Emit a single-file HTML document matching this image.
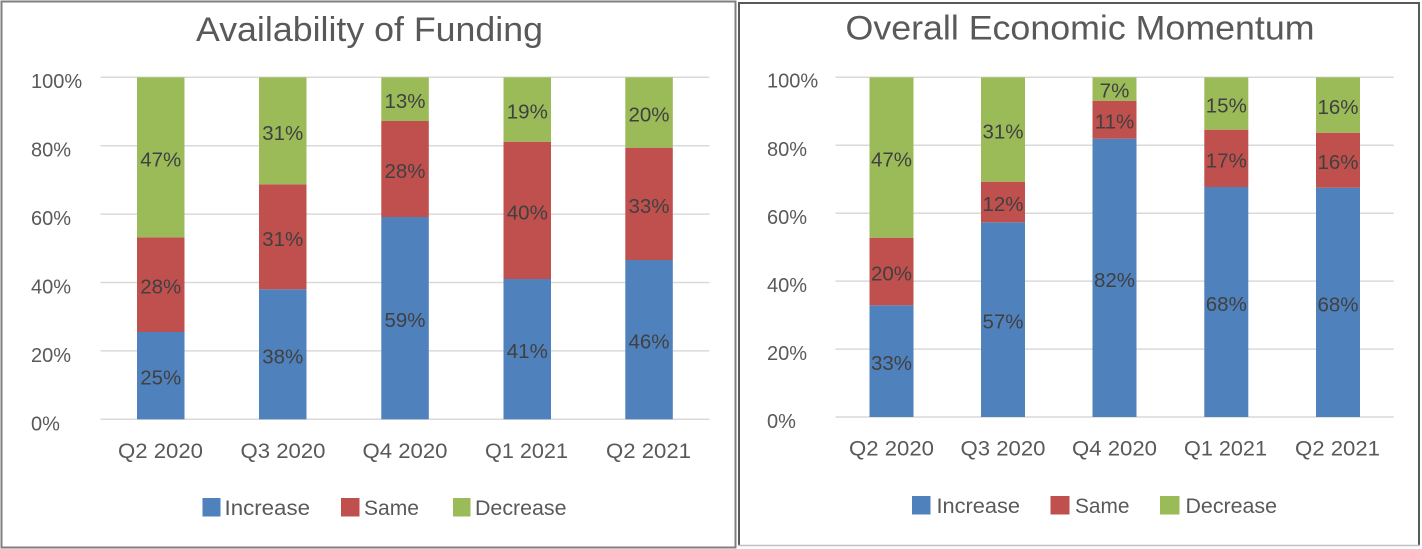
<!DOCTYPE html>
<html>
<head>
<meta charset="utf-8">
<style>
  html, body { margin:0; padding:0; background:#ffffff; }
  body { width:1422px; height:549px; overflow:hidden; }
  svg { display:block; }
  text { font-family: "Liberation Sans", "DejaVu Sans", sans-serif; }
</style>
</head>
<body>
<svg width="1422" height="549" viewBox="0 0 1422 549" xmlns="http://www.w3.org/2000/svg">
  <rect x="0" y="0" width="1422" height="549" fill="#ffffff"/>

  <!-- ============ LEFT CHART ============ -->
  <rect x="1.5" y="1.5" width="734" height="546" fill="#ffffff" stroke="#7f7f7f" stroke-width="2"/>
  <text x="196" y="41" font-size="34" fill="#595959" textLength="347" lengthAdjust="spacingAndGlyphs">Availability of Funding</text>

  <!-- gridlines -->
  <g stroke="#d9d9d9" stroke-width="1.5">
    <line x1="100.5" y1="77.3" x2="709.3" y2="77.3"/>
    <line x1="100.5" y1="145.7" x2="709.3" y2="145.7"/>
    <line x1="100.5" y1="214.1" x2="709.3" y2="214.1"/>
    <line x1="100.5" y1="282.5" x2="709.3" y2="282.5"/>
    <line x1="100.5" y1="350.9" x2="709.3" y2="350.9"/>
    <line x1="100.5" y1="419.3" x2="709.3" y2="419.3"/>
  </g>
  <!-- y tick labels -->
  <g font-size="20" fill="#595959">
    <text x="31" y="88">100%</text>
    <text x="31" y="156.5">80%</text>
    <text x="31" y="225">60%</text>
    <text x="31" y="293.5">40%</text>
    <text x="31" y="362">20%</text>
    <text x="31" y="430.5">0%</text>
  </g>

  <!-- bars -->
  <!-- Bar 1 -->
  <rect x="137" y="332" width="47.5" height="87.3" fill="#4f81bd"/>
  <rect x="137" y="237.3" width="47.5" height="94.7" fill="#c0504d"/>
  <rect x="137" y="77.3" width="47.5" height="160" fill="#9bbb59"/>
  <!-- Bar 2 -->
  <rect x="259" y="289.3" width="47.5" height="130" fill="#4f81bd"/>
  <rect x="259" y="184.3" width="47.5" height="105" fill="#c0504d"/>
  <rect x="259" y="77.3" width="47.5" height="107" fill="#9bbb59"/>
  <!-- Bar 3 -->
  <rect x="381.3" y="217" width="47.5" height="202.3" fill="#4f81bd"/>
  <rect x="381.3" y="121" width="47.5" height="96" fill="#c0504d"/>
  <rect x="381.3" y="77.3" width="47.5" height="43.7" fill="#9bbb59"/>
  <!-- Bar 4 -->
  <rect x="503.5" y="279" width="47.5" height="140.3" fill="#4f81bd"/>
  <rect x="503.5" y="141.7" width="47.5" height="137.3" fill="#c0504d"/>
  <rect x="503.5" y="77.3" width="47.5" height="64.4" fill="#9bbb59"/>
  <!-- Bar 5 -->
  <rect x="625.3" y="260" width="47.5" height="159.3" fill="#4f81bd"/>
  <rect x="625.3" y="147.7" width="47.5" height="112.3" fill="#c0504d"/>
  <rect x="625.3" y="77.3" width="47.5" height="70.4" fill="#9bbb59"/>

  <!-- data labels -->
  <g font-size="20.5" fill="#404040" text-anchor="middle">
    <text x="160.75" y="166.3">47%</text>
    <text x="160.75" y="293.7">28%</text>
    <text x="160.75" y="384.7">25%</text>

    <text x="282.75" y="139.8">31%</text>
    <text x="282.75" y="245.8">31%</text>
    <text x="282.75" y="363.3">38%</text>

    <text x="405" y="108.2">13%</text>
    <text x="405" y="178">28%</text>
    <text x="405" y="327.2">59%</text>

    <text x="527.3" y="118.5">19%</text>
    <text x="527.3" y="219.4">40%</text>
    <text x="527.3" y="358.2">41%</text>

    <text x="649" y="121.5">20%</text>
    <text x="649" y="212.9">33%</text>
    <text x="649" y="348.7">46%</text>
  </g>

  <!-- x labels -->
  <g font-size="21" fill="#595959" text-anchor="middle">
    <text x="160.5" y="458" textLength="85" lengthAdjust="spacingAndGlyphs">Q2 2020</text>
    <text x="283" y="458" textLength="85" lengthAdjust="spacingAndGlyphs">Q3 2020</text>
    <text x="405" y="458" textLength="85" lengthAdjust="spacingAndGlyphs">Q4 2020</text>
    <text x="526.5" y="458" textLength="83" lengthAdjust="spacingAndGlyphs">Q1 2021</text>
    <text x="648.5" y="458" textLength="85" lengthAdjust="spacingAndGlyphs">Q2 2021</text>
  </g>

  <!-- legend -->
  <rect x="202.5" y="498" width="18" height="18.5" fill="#4f81bd"/>
  <text x="224.5" y="515" font-size="21" fill="#595959" textLength="85.5" lengthAdjust="spacingAndGlyphs">Increase</text>
  <rect x="341" y="498" width="18.5" height="18.5" fill="#c0504d"/>
  <text x="364" y="515" font-size="21" fill="#595959" textLength="55" lengthAdjust="spacingAndGlyphs">Same</text>
  <rect x="453" y="498" width="17.5" height="18.5" fill="#9bbb59"/>
  <text x="475" y="515" font-size="21" fill="#595959" textLength="91.5" lengthAdjust="spacingAndGlyphs">Decrease</text>

  <!-- ============ RIGHT CHART ============ -->
  <line x1="739" y1="2" x2="739" y2="546" stroke="#595959" stroke-width="2"/>
  <line x1="738" y1="3" x2="1420" y2="3" stroke="#595959" stroke-width="2"/>
  <line x1="1419" y1="2" x2="1419" y2="546" stroke="#595959" stroke-width="2"/>
  <line x1="738" y1="545.5" x2="1420" y2="545.5" stroke="#bfbfbf" stroke-width="1.5"/>

  <text x="845.5" y="39.5" font-size="34" fill="#595959" textLength="469" lengthAdjust="spacingAndGlyphs">Overall Economic Momentum</text>

  <g stroke="#d9d9d9" stroke-width="1.5">
    <line x1="835.5" y1="77.3" x2="1393.7" y2="77.3"/>
    <line x1="835.5" y1="145.2" x2="1393.7" y2="145.2"/>
    <line x1="835.5" y1="213.2" x2="1393.7" y2="213.2"/>
    <line x1="835.5" y1="281.1" x2="1393.7" y2="281.1"/>
    <line x1="835.5" y1="349.1" x2="1393.7" y2="349.1"/>
    <line x1="835.5" y1="417" x2="1393.7" y2="417"/>
  </g>
  <g font-size="20" fill="#595959">
    <text x="767" y="87.5">100%</text>
    <text x="767" y="156">80%</text>
    <text x="767" y="224">60%</text>
    <text x="767" y="292">40%</text>
    <text x="767" y="360">20%</text>
    <text x="767" y="428">0%</text>
  </g>

  <!-- Bar 1 -->
  <rect x="869.5" y="305.3" width="44" height="111.7" fill="#4f81bd"/>
  <rect x="869.5" y="237.7" width="44" height="67.6" fill="#c0504d"/>
  <rect x="869.5" y="77.3" width="44" height="160.4" fill="#9bbb59"/>
  <!-- Bar 2 -->
  <rect x="981" y="222.3" width="44" height="194.7" fill="#4f81bd"/>
  <rect x="981" y="181.7" width="44" height="40.6" fill="#c0504d"/>
  <rect x="981" y="77.3" width="44" height="104.4" fill="#9bbb59"/>
  <!-- Bar 3 -->
  <rect x="1092.5" y="138.7" width="44" height="278.3" fill="#4f81bd"/>
  <rect x="1092.5" y="100.7" width="44" height="38" fill="#c0504d"/>
  <rect x="1092.5" y="77.3" width="44" height="23.4" fill="#9bbb59"/>
  <!-- Bar 4 -->
  <rect x="1204.3" y="187" width="44" height="230" fill="#4f81bd"/>
  <rect x="1204.3" y="129.7" width="44" height="57.3" fill="#c0504d"/>
  <rect x="1204.3" y="77.3" width="44" height="52.4" fill="#9bbb59"/>
  <!-- Bar 5 -->
  <rect x="1316" y="187.7" width="44" height="229.3" fill="#4f81bd"/>
  <rect x="1316" y="132.7" width="44" height="55" fill="#c0504d"/>
  <rect x="1316" y="77.3" width="44" height="55.4" fill="#9bbb59"/>

  <g font-size="20.5" fill="#404040" text-anchor="middle">
    <text x="891.5" y="166.5">47%</text>
    <text x="891.5" y="280.5">20%</text>
    <text x="891.5" y="370.2">33%</text>

    <text x="1003" y="138.5">31%</text>
    <text x="1003" y="211">12%</text>
    <text x="1003" y="328.7">57%</text>

    <text x="1114.5" y="97.5">7%</text>
    <text x="1114.5" y="128.7">11%</text>
    <text x="1114.5" y="286.9">82%</text>

    <text x="1226.3" y="112.5">15%</text>
    <text x="1226.3" y="167.4">17%</text>
    <text x="1226.3" y="311">68%</text>

    <text x="1338" y="114">16%</text>
    <text x="1338" y="169.2">16%</text>
    <text x="1338" y="311.4">68%</text>
  </g>

  <g font-size="21" fill="#595959" text-anchor="middle">
    <text x="891.5" y="455.5" textLength="85" lengthAdjust="spacingAndGlyphs">Q2 2020</text>
    <text x="1003" y="455.5" textLength="85" lengthAdjust="spacingAndGlyphs">Q3 2020</text>
    <text x="1114.5" y="455.5" textLength="85" lengthAdjust="spacingAndGlyphs">Q4 2020</text>
    <text x="1225.5" y="455.5" textLength="83" lengthAdjust="spacingAndGlyphs">Q1 2021</text>
    <text x="1337.5" y="455.5" textLength="85" lengthAdjust="spacingAndGlyphs">Q2 2021</text>
  </g>

  <rect x="912" y="496" width="18.5" height="18.5" fill="#4f81bd"/>
  <text x="936.5" y="513" font-size="21" fill="#595959" textLength="83.5" lengthAdjust="spacingAndGlyphs">Increase</text>
  <rect x="1050.5" y="496" width="19" height="18.5" fill="#c0504d"/>
  <text x="1075" y="513" font-size="21" fill="#595959" textLength="54.5" lengthAdjust="spacingAndGlyphs">Same</text>
  <rect x="1160" y="496" width="19.5" height="18.5" fill="#9bbb59"/>
  <text x="1185.5" y="513" font-size="21" fill="#595959" textLength="91.5" lengthAdjust="spacingAndGlyphs">Decrease</text>
</svg>
</body>
</html>
